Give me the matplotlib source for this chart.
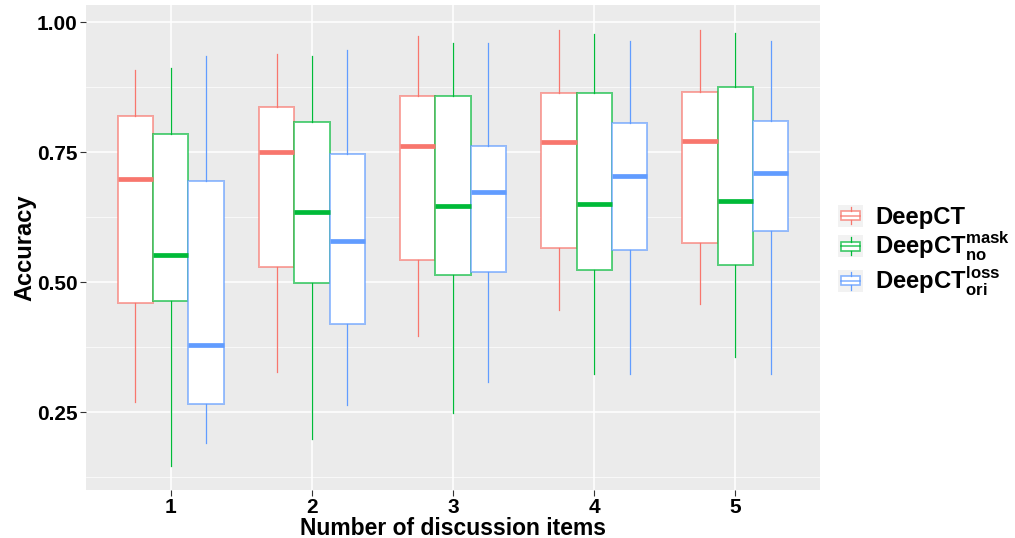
import matplotlib
matplotlib.use("Agg")
import matplotlib.pyplot as plt
from matplotlib.colors import to_rgba
from matplotlib.legend_handler import HandlerBase
from matplotlib.patches import Rectangle
from matplotlib.lines import Line2D

# Number of discussion items
groups = [1, 2, 3, 4, 5]

series_labels = ["DeepCT",
                 r"DeepCT$^{\mathbf{mask}}_{\mathbf{no}}$",
                 r"DeepCT$^{\mathbf{loss}}_{\mathbf{ori}}$"]
series_colors = ["#F8766D", "#00BA38", "#619CFF"]

# Box statistics (whisker low, Q1, median, Q3, whisker high)
deepct_lo = [0.269, 0.327, 0.397, 0.447, 0.458]
deepct_q1 = [0.459, 0.529, 0.543, 0.565, 0.576]
deepct_med = [0.699, 0.750, 0.762, 0.769, 0.771]
deepct_q3 = [0.820, 0.837, 0.858, 0.863, 0.865]
deepct_hi = [0.908, 0.938, 0.973, 0.985, 0.985]

nomask_lo = [0.146, 0.199, 0.248, 0.323, 0.356]
nomask_q1 = [0.463, 0.499, 0.513, 0.524, 0.532]
nomask_med = [0.552, 0.634, 0.647, 0.651, 0.655]
nomask_q3 = [0.785, 0.808, 0.858, 0.863, 0.875]
nomask_hi = [0.911, 0.935, 0.960, 0.976, 0.978]

oriloss_lo = [0.190, 0.263, 0.308, 0.323, 0.323]
oriloss_q1 = [0.265, 0.419, 0.519, 0.562, 0.599]
oriloss_med = [0.379, 0.579, 0.674, 0.704, 0.710]
oriloss_q3 = [0.694, 0.746, 0.762, 0.805, 0.810]
oriloss_hi = [0.935, 0.946, 0.960, 0.964, 0.964]

all_series = [
    (deepct_lo, deepct_q1, deepct_med, deepct_q3, deepct_hi),
    (nomask_lo, nomask_q1, nomask_med, nomask_q3, nomask_hi),
    (oriloss_lo, oriloss_q1, oriloss_med, oriloss_q3, oriloss_hi),
]

plt.rcParams['font.family'] = ['Liberation Sans', 'DejaVu Sans']
plt.rcParams['font.weight'] = 'bold'
plt.rcParams['mathtext.fontset'] = 'custom'
plt.rcParams['mathtext.bf'] = 'Liberation Sans:bold'
plt.rcParams['mathtext.rm'] = 'Liberation Sans:bold'

fig = plt.figure(figsize=(10.15, 5.38), dpi=100)
ax = fig.add_axes([0.0847, 0.089, 0.7233, 0.902])
ax.set_facecolor("#EBEBEB")

width = 0.25
offsets = [-0.25, 0.0, 0.25]

for (lo, q1, med, q3, hi), col, off in zip(all_series, series_colors, offsets):
    stats = []
    for i in range(len(groups)):
        stats.append({"whislo": lo[i], "q1": q1[i], "med": med[i],
                      "q3": q3[i], "whishi": hi[i], "fliers": []})
    ax.bxp(stats, positions=[g + off for g in groups], widths=width,
           patch_artist=True, showfliers=False, showcaps=False,
           boxprops=dict(facecolor="white", edgecolor=to_rgba(col, 0.65), linewidth=1.4),
           medianprops=dict(color=col, linewidth=3.4, solid_capstyle="butt"),
           whiskerprops=dict(color=col, linewidth=0.9),
           manage_ticks=False, zorder=3)

ax.set_xlim(0.4, 5.6)
ax.set_ylim(0.1, 1.033)
ax.set_xticks(groups)
ax.set_yticks([0.25, 0.50, 0.75, 1.00])
ax.set_yticklabels(["0.25", "0.50", "0.75", "1.00"])
ax.set_yticks([0.125, 0.375, 0.625, 0.875], minor=True)

ax.grid(True, which="major", color="white", linewidth=1.1, zorder=0)
ax.grid(True, which="minor", axis="y", color="white", linewidth=0.5, zorder=0)
ax.set_axisbelow(True)
for s in ax.spines.values():
    s.set_visible(False)

ax.tick_params(axis="both", which="major", length=4, width=0.8, color="#333333",
               labelsize=15, labelcolor="black", pad=2)
ax.tick_params(axis="y", which="minor", length=0)

ax.set_xlabel("Number of discussion items", fontsize=16.5, fontweight="bold")
ax.xaxis.set_label_coords(0.5, -0.079)
ax.xaxis.label.set_verticalalignment("center")
ax.set_ylabel("Accuracy", fontsize=17, fontweight="bold")
ax.yaxis.set_label_coords(-0.083, 0.5)
ax.yaxis.label.set_verticalalignment("center")


class BoxKey(HandlerBase):
    def create_artists(self, legend, orig_handle, xdescent, ydescent,
                       width, height, fontsize, trans):
        c = orig_handle.get_color()
        x0, y0 = -xdescent, -ydescent
        bg = Rectangle((x0, y0), width, height, facecolor="#F2F2F2",
                       edgecolor="none", transform=trans)
        box = Rectangle((x0 + width * 0.12, y0 + height * 0.3), width * 0.76,
                        height * 0.4, facecolor="white",
                        edgecolor=to_rgba(c, 0.75), lw=1.2, transform=trans)
        med = Line2D([x0 + width * 0.12, x0 + width * 0.88],
                     [y0 + height * 0.5] * 2, color=to_rgba(c, 0.75), lw=1.2,
                     transform=trans)
        w1 = Line2D([x0 + width / 2] * 2, [y0 + height * 0.7, y0 + height * 0.9],
                    color=c, lw=0.9, transform=trans)
        w2 = Line2D([x0 + width / 2] * 2, [y0 + height * 0.1, y0 + height * 0.3],
                    color=c, lw=0.9, transform=trans)
        return [bg, box, med, w1, w2]


handles = [Line2D([], [], color=c) for c in series_colors]
leg = fig.legend(handles, series_labels, loc="center left",
                 bbox_to_anchor=(0.8045, 0.533), frameon=False, fontsize=17.2,
                 handler_map={Line2D: BoxKey()}, handlelength=1.05,
                 handleheight=1.05, labelspacing=0.05, handletextpad=0.5,
                 borderpad=0.4)
for t in leg.get_texts():
    t.set_fontweight("bold")

fig.savefig("out.png", dpi=100)
